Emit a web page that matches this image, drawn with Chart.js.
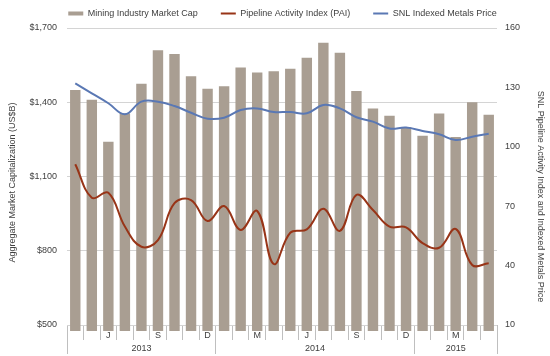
<!DOCTYPE html>
<html><head><meta charset="utf-8">
<script src="https://cdn.jsdelivr.net/npm/chart.js@4"></script>
<style>html,body{margin:0;padding:0;background:#fff}#wrap{width:550px;height:356px;position:relative}</style>
</head><body><div id="wrap"><canvas id="c" width="550" height="356"></canvas></div>
<script>
const months = ['Apr 2013','May 2013','Jun 2013','Jul 2013','Aug 2013','Sep 2013','Oct 2013','Nov 2013','Dec 2013',
  'Jan 2014','Feb 2014','Mar 2014','Apr 2014','May 2014','Jun 2014','Jul 2014','Aug 2014','Sep 2014','Oct 2014','Nov 2014','Dec 2014',
  'Jan 2015','Feb 2015','Mar 2015','Apr 2015','May 2015'];
const monthTickLabels = ['','','J','','','S','','','D','','','M','','','J','','','S','','','D','','','M','',''];
const marketCap = [1450,1410,1240,1355,1475,1610,1595,1505,1455,1465,1540,1520,1525,1535,1580,1640,1600,1445,1375,1345,1300,1265,1355,1260,1400,1350];
const paiIndex = [91.2,74.3,76.8,59.7,49.5,52.9,71.5,73.1,62.5,70.1,58,67.6,40.8,56.6,58.3,68.7,57.5,75.7,68.1,59.7,59.3,51.3,49,58.5,40.3,41.2];
const snlMetals = [132,127,122,116.4,122.8,122.8,120.6,117.2,114.2,114.7,118.6,119.4,117.6,117.6,116.9,121.1,119.4,114.9,112.7,109.2,109.7,108,106.3,103.4,105.1,106.6];
const leftTickValues = [500,800,1100,1400,1700];
const rightTickValues = [10,40,70,100,130,160];
const seriesNames = ['Mining Industry Market Cap','Pipeline Activity Index (PAI)','SNL Indexed Metals Price'];
const axisTitles = ['Aggregate Market Capitalization (US$B)','SNL Pipeline Activity Index and Indexed Metals Price'];

// year groups derived from the month categories
const yearNames = [...new Set(months.map(m => m.split(' ')[1]))];
const yearGroups = yearNames.map(y => {
  const idx = months.map((m, i) => m.endsWith(y) ? i : -1).filter(i => i >= 0);
  return {label: y, first: idx[0], last: idx[idx.length - 1]};
});
const yearSeparators = yearGroups.map(g => g.first - 0.5).concat([yearGroups[yearGroups.length - 1].last + 0.5]);
const yearCenters = yearGroups.map(g => ({v: (g.first + g.last) / 2, label: g.label}));
const yearTickValues = yearSeparators.concat(yearCenters.map(c => c.v)).sort((a, b) => a - b);
const yearLabelAt = v => { const c = yearCenters.find(c => Math.abs(c.v - v) < 1e-6); return c ? c.label : ''; };

Chart.defaults.font.family = "'Liberation Sans', Arial, sans-serif";
Chart.defaults.font.size = 9;
Chart.defaults.color = '#404040';

const BAR = '#a99e92', RED = '#983417', BLUE = '#5a78b4', GRID = '#d4d4d4', TICK = '#bfbfbf';

const shiftPlugin = {
  id: 'shift',
  afterLayout(chart) {
    const lg = chart.legend; lg.left += 7.5; lg.right += 7.5;
    const l = chart.scales.yL; l.top += 6; l.bottom += 6;
    const r = chart.scales.yR; r.top += 20; r.bottom += 20;
  }
};

new Chart(document.getElementById('c'), {
  type: 'bar',
  data: {
    labels: months,
    datasets: [
      {type: 'bar', label: seriesNames[0], data: marketCap, backgroundColor: BAR, borderWidth: 0,
       xAxisID: 'x', yAxisID: 'yL', order: 2, barPercentage: 0.63, categoryPercentage: 1},
      {type: 'line', label: seriesNames[1], data: paiIndex, borderColor: RED, borderWidth: 2, pointRadius: 0,
       tension: 0.4, fill: false, xAxisID: 'x', yAxisID: 'yR', order: 1},
      {type: 'line', label: seriesNames[2], data: snlMetals, borderColor: BLUE, borderWidth: 2, pointRadius: 0,
       tension: 0.4, fill: false, xAxisID: 'x', yAxisID: 'yR', order: 1}
    ]
  },
  options: {
    responsive: false, animation: false, events: [],
    layout: {padding: {top: -14, left: 0, right: 0, bottom: 0}},
    plugins: {
      tooltip: {enabled: false},
      legend: {
        display: true, position: 'top',
        labels: {
          padding: 23, usePointStyle: true, pointStyleWidth: 15, boxHeight: 4, color: '#404040',
          generateLabels(chart) {
            return chart.data.datasets.map((ds, i) => ({
              text: ds.label,
              fillStyle: ds.type === 'bar' ? ds.backgroundColor : 'rgba(0,0,0,0)',
              strokeStyle: ds.type === 'bar' ? ds.backgroundColor : ds.borderColor,
              lineWidth: ds.type === 'bar' ? 0 : 2,
              pointStyle: ds.type === 'bar' ? 'rect' : 'line',
              hidden: false, datasetIndex: i, fontColor: '#404040'
            }));
          }
        }
      }
    },
    scales: {
      x: {
        type: 'category', position: 'bottom', offset: true, weight: 0,
        grid: {display: true, offset: true, drawOnChartArea: false, drawTicks: true, tickLength: 15, color: TICK},
        border: {display: false},
        ticks: {autoSkip: false, maxRotation: 0, minRotation: 0, padding: -10, callback: (v, i) => monthTickLabels[i]},
        afterFit: s => { s.height = 15; }
      },
      x2: {
        type: 'linear', position: 'bottom', weight: 1, offset: false,
        min: yearSeparators[0], max: yearSeparators[yearSeparators.length - 1],
        grid: {display: true, offset: false, drawOnChartArea: false, drawTicks: true, tickLength: 14,
               color: c => (c.tick && yearLabelAt(c.tick.value)) ? 'rgba(0,0,0,0)' : TICK},
        border: {display: false},
        ticks: {autoSkip: false, maxRotation: 0, minRotation: 0, padding: -10.4, callback: v => yearLabelAt(v)},
        afterBuildTicks: s => { s.ticks = yearTickValues.map(v => ({value: v})); },
        afterFit: s => { s.height = 16; }
      },
      yL: {
        type: 'linear', position: 'left', min: leftTickValues[0], max: leftTickValues[leftTickValues.length - 1],
        afterBuildTicks: s => { s.ticks = leftTickValues.map(v => ({value: v})); },
        grid: {color: GRID, drawTicks: false},
        border: {display: false},
        ticks: {padding: 10, callback: v => '$' + Number(v).toLocaleString('en-US')},
        title: {display: true, text: axisTitles[0], padding: {top: 7, bottom: 0}, color: '#404040'},
        afterFit: s => { s.width = 67; }
      },
      yR: {
        type: 'linear', position: 'right', min: rightTickValues[0], max: rightTickValues[rightTickValues.length - 1],
        afterBuildTicks: s => { s.ticks = rightTickValues.map(v => ({value: v})); },
        grid: {display: true, drawOnChartArea: false, drawTicks: false},
        border: {display: false},
        ticks: {padding: 8},
        title: {display: true, text: axisTitles[1], padding: {top: 4, bottom: 0}, color: '#404040'},
        afterFit: s => { s.width = 53; }
      }
    }
  },
  plugins: [shiftPlugin]
});
</script>
</body></html>
